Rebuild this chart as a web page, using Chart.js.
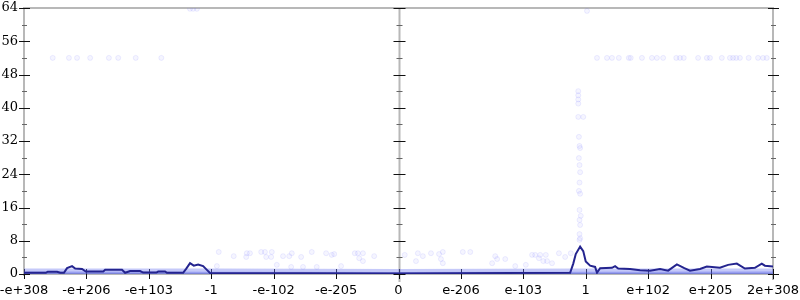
<!DOCTYPE html>
<html>
<head>
<meta charset="utf-8">
<script src="https://cdn.jsdelivr.net/npm/chart.js@4.4.0/dist/chart.umd.min.js"></script>
<style>
  html, body { margin: 0; padding: 0; background: #fff; }
  #wrap { width: 800px; height: 300px; }
</style>
</head>
<body>
<div id="wrap"><canvas id="c" width="800" height="300"></canvas></div>
<script>
// tick labels (x positions -6..6 on a symmetric log-like axis)
const xLabels = ['-e+308', '-e+206', '-e+103', '-1', '-e-102', '-e-205', '0',
                 'e-206', 'e-103', '1', 'e+102', 'e+205', '2e+308'];
const yMax = 64;
const yStep = 8;

// dark line (smoothed histogram)
const lineX = [-6.00, -5.65, -5.62, -5.47, -5.42, -5.36, -5.31, -5.23, -5.18, -5.07,
               -5.01, -4.73, -4.70, -4.43, -4.38, -4.30, -4.14, -4.09, -3.88, -3.85,
               -3.74, -3.71, -3.45, -3.40, -3.34, -3.28, -3.21, -3.13, -3.07, -3.02,
               0.00, 2.75, 2.80, 2.84, 2.91, 2.96, 3.00, 3.07, 3.15, 3.18,
               3.23, 3.42, 3.47, 3.52, 3.71, 3.87, 4.03, 4.19, 4.32, 4.46,
               4.58, 4.67, 4.83, 4.94, 5.15, 5.28, 5.42, 5.55, 5.71, 5.82,
               5.87, 6.00];
const lineY = [0.3, 0.3, 0.55, 0.55, 0.3, 0.3, 1.4, 1.9, 1.3, 1.2,
               0.6, 0.6, 1.0, 1.0, 0.3, 0.7, 0.7, 0.35, 0.35, 0.6,
               0.6, 0.3, 0.3, 1.3, 2.6, 2.0, 2.3, 1.9, 1.0, 0.25,
               0.15, 0.3, 2.5, 4.8, 6.6, 5.5, 3.0, 2.0, 1.7, 0.3,
               1.4, 1.5, 1.9, 1.3, 1.2, 0.9, 0.8, 1.2, 0.8, 2.3,
               1.4, 0.8, 1.2, 1.8, 1.5, 2.2, 2.5, 1.3, 1.5, 2.5,
               2.0, 1.8];

// dense band of samples near zero (outer and inner layer)
const bandX = [-6, -3, 0, 3, 6];
const bandY = [1.3, 1.3, 1.2, 1.3, 1.3];
const coreX = [-6, 0, 6];
const coreY = [0.6, 0.5, 0.6];

// faint individual samples
const dotX = [-5.54, -5.28, -5.15, -4.94, -4.64, -4.49, -4.21, -3.80,
              3.18, 3.34, 3.42, 3.53, 3.69, 3.72, 3.90, 4.06, 4.14, 4.24, 4.45, 4.51, 4.57,
              4.80, 4.94, 4.99, 5.18, 5.31, 5.36, 5.41, 5.47, 5.61, 5.76, 5.84, 5.90,
              -3.34, -3.29, -3.23, 3.02,
              2.88, 2.88, 2.88, 2.88, 2.88, 2.96,
              2.89, 2.90, 2.91, 2.89, 2.90, 2.91, 2.90, 2.89, 2.91, 2.90, 2.92, 2.90, 2.91, 2.90, 2.91, 2.90,
              -2.88, -2.64, -2.43, -2.38, -2.44, -2.20, -2.14, -2.03, -2.12, -2.04,
              -1.85, -1.75, -1.71, -1.56, -1.39, -1.16, -1.07, -1.03,
              -0.70, -0.65, -0.57, -0.39, -0.63, -0.57,
              -2.91, -1.95, -1.72, -1.53, -1.31, -0.92,
              0.10, 0.31, 0.39, 0.52, 0.65, 0.71, 0.28, 0.68, 0.71, 1.03, 1.15,
              1.55, 1.58, 1.71, 1.50, 2.14, 2.19, 2.27, 2.36, 2.25, 2.32, 2.38, 2.46,
              2.57, 2.67, 2.76, 1.87, 2.04];
const dotY = [52, 52, 52, 52, 52, 52, 52, 52,
              52, 52, 52, 52, 52, 52, 52, 52, 52, 52, 52, 52, 52,
              52, 52, 52, 52, 52, 52, 52, 52, 52, 52, 52, 52,
              63.8, 63.8, 63.8, 63.3,
              44, 43, 42, 41, 37.8, 37.8,
              33, 30.8, 30.3, 27.9, 26.2, 24.5, 22, 20, 19.3, 15.4, 14, 13, 11.8, 9.6, 8.6, 8.2,
              5.3, 4.3, 5.0, 5.0, 4.1, 5.3, 5.3, 5.3, 4.1, 4.1,
              4.3, 4.3, 5.0, 4.1, 5.3, 5.0, 4.6, 4.8,
              5.0, 5.0, 5.0, 4.3, 3.8, 3.1,
              1.9, 2.2, 1.7, 1.7, 1.7, 1.9,
              4.6, 5.0, 4.3, 5.0, 4.8, 5.3, 3.1, 3.6, 2.6, 5.3, 5.3,
              4.3, 3.6, 3.6, 2.6, 4.6, 4.6, 4.6, 4.6, 3.8, 3.1, 3.1, 2.6,
              5.0, 4.1, 5.0, 1.9, 2.2];

const toPts = (xs, ys) => xs.map((x, i) => ({ x: x, y: ys[i] }));

// axis lines and tick marks, drawn by hand so the middle axis gets them too
const axesPlugin = {
  id: 'axes',
  beforeDatasetsDraw(chart) {
    const { ctx, chartArea: a, scales } = chart;
    const xs = scales.x, ys = scales.y;
    const midX = Math.round(xs.getPixelForValue(0)) + 0.5;
    ctx.save();
    ctx.strokeStyle = '#b8b8b8';
    ctx.lineWidth = 2;
    ctx.beginPath();
    ctx.moveTo(a.left, a.top); ctx.lineTo(a.right, a.top);
    ctx.moveTo(a.left, a.bottom); ctx.lineTo(a.right, a.bottom);
    ctx.moveTo(a.left, a.top - 1); ctx.lineTo(a.left, a.bottom + 2);
    ctx.moveTo(a.right, a.top - 1); ctx.lineTo(a.right, a.bottom + 6);
    ctx.moveTo(midX, a.top); ctx.lineTo(midX, a.bottom + 8);
    ctx.stroke();

    ctx.lineWidth = 1;
    for (let v = 0; v <= yMax; v += yStep / 2) {
      const py = Math.round(ys.getPixelForValue(v)) + 0.5;
      const major = v % yStep === 0;
      ctx.strokeStyle = major ? '#111' : '#666';
      ctx.beginPath();
      if (major) {
        ctx.moveTo(a.left - 5, py); ctx.lineTo(a.left + 6, py);
        ctx.moveTo(midX - 6, py); ctx.lineTo(midX + 6, py);
        ctx.moveTo(a.right - 5, py); ctx.lineTo(a.right + 6, py);
      } else {
        ctx.moveTo(a.left - 2, py); ctx.lineTo(a.left + 3, py);
        ctx.moveTo(midX - 3, py); ctx.lineTo(midX + 3, py);
        ctx.moveTo(a.right - 2, py); ctx.lineTo(a.right + 3, py);
      }
      ctx.stroke();
    }
    ctx.strokeStyle = '#111';
    xs.ticks.forEach(t => {
      const px = Math.round(xs.getPixelForValue(t.value)) + 0.5;
      ctx.beginPath();
      ctx.moveTo(px, a.bottom - 5); ctx.lineTo(px, a.bottom + 5);
      ctx.stroke();
    });
    ctx.restore();
  }
};

new Chart(document.getElementById('c'), {
  type: 'scatter',
  data: {
    datasets: [
      {
        type: 'line',
        data: toPts(lineX, lineY),
        borderColor: '#24248f',
        borderWidth: 2,
        pointRadius: 0,
        tension: 0,
        fill: false,
        order: 1
      },
      {
        type: 'scatter',
        data: toPts(dotX, dotY),
        backgroundColor: 'rgba(120,120,255,0.07)',
        borderColor: 'rgba(120,120,255,0.13)',
        borderWidth: 1,
        pointRadius: 2.5,
        order: 2
      },
      {
        type: 'line',
        data: toPts(coreX, coreY),
        backgroundColor: 'rgba(70,80,225,0.35)',
        borderWidth: 0,
        pointRadius: 0,
        fill: 'origin',
        order: 3
      },
      {
        type: 'line',
        data: toPts(bandX, bandY),
        backgroundColor: 'rgba(110,120,240,0.4)',
        borderWidth: 0,
        pointRadius: 0,
        fill: 'origin',
        order: 4
      }
    ]
  },
  options: {
    responsive: false,
    animation: false,
    layout: { padding: { top: 8, right: 27, left: 0, bottom: 0 } },
    plugins: { legend: { display: false }, tooltip: { enabled: false } },
    scales: {
      x: {
        type: 'linear',
        min: -6,
        max: 6,
        afterFit: s => { s.height = 26; s.paddingLeft = 0; s.paddingRight = 0; },
        grid: { display: false, drawTicks: false },
        border: { display: false },
        ticks: {
          stepSize: 1,
          autoSkip: false,
          maxRotation: 0,
          padding: 9,
          color: '#000',
          font: { family: 'DejaVu Sans', size: 13 },
          callback: v => xLabels[Math.round(v) + 6]
        }
      },
      y: {
        min: 0,
        max: yMax,
        afterFit: s => { s.width = 24; s.paddingTop = 0; s.paddingBottom = 0; },
        grid: { display: false, drawTicks: false },
        border: { display: false },
        ticks: {
          stepSize: yStep,
          padding: 6,
          color: '#000',
          font: { family: 'DejaVu Serif', size: 13 }
        }
      }
    }
  },
  plugins: [axesPlugin]
});
</script>
</body>
</html>
